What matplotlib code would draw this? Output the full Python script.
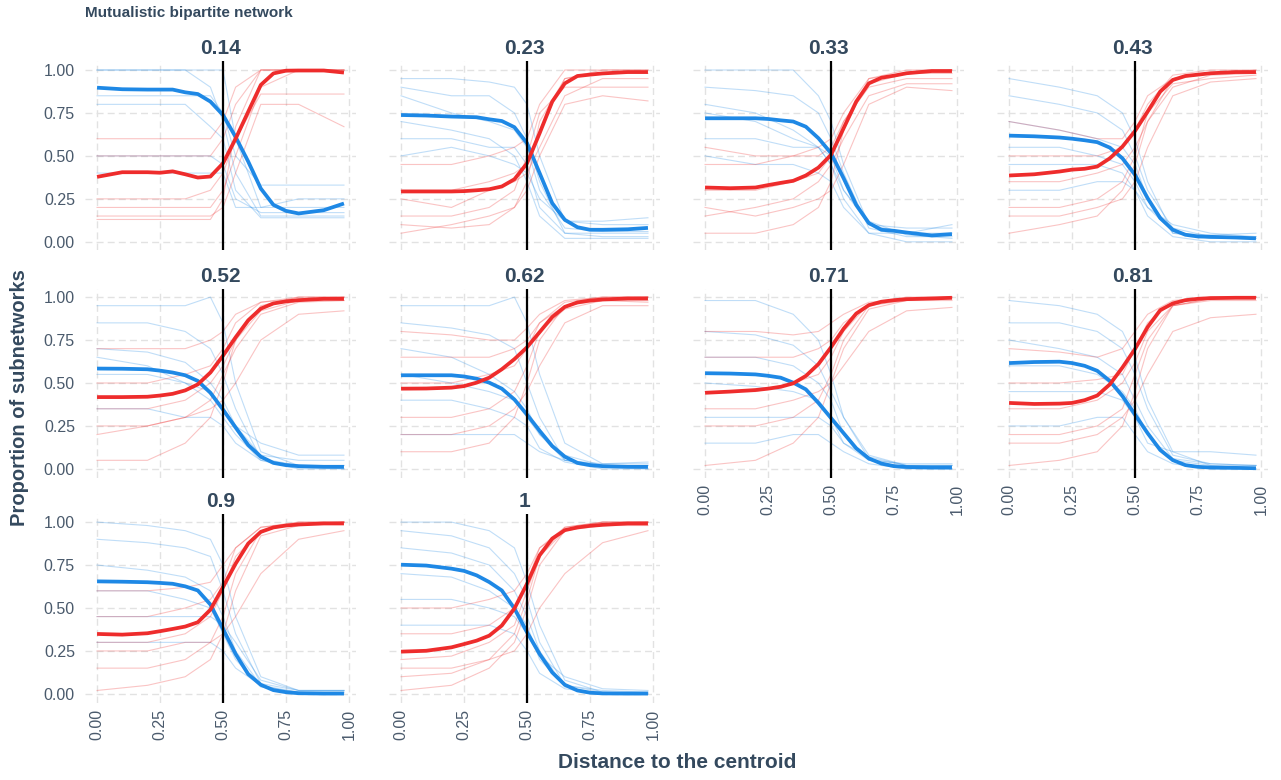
import numpy as np
import matplotlib.pyplot as plt

plt.rcParams['font.family'] = ['Liberation Sans', 'DejaVu Sans']

# facet titles (connectance level)
panel_titles = ["0.14", "0.23", "0.33", "0.43", "0.52", "0.62", "0.71", "0.81", "0.9", "1"]

# x positions of the smoothed (thick) curves
x_fit = [0, .1, .2, .25, .3, .35, .4, .45, .5, .55, .6, .65, .7, .75, .8, .9, .98]

# smoothed proportion, blue group, one row per panel
blue_fit = [
    [0.897, 0.888, 0.886, 0.886, 0.886, 0.87, 0.86, 0.816, 0.738, 0.61, 0.467, 0.31, 0.215, 0.18, 0.165, 0.184, 0.223],
    [0.738, 0.735, 0.729, 0.727, 0.725, 0.713, 0.703, 0.667, 0.574, 0.40, 0.225, 0.128, 0.085, 0.07, 0.07, 0.073, 0.081],
    [0.719, 0.719, 0.719, 0.715, 0.707, 0.70, 0.67, 0.603, 0.516, 0.37, 0.215, 0.109, 0.07, 0.064, 0.054, 0.037, 0.045],
    [0.618, 0.614, 0.607, 0.60, 0.591, 0.58, 0.548, 0.486, 0.39, 0.254, 0.138, 0.07, 0.041, 0.031, 0.029, 0.025, 0.02],
    [0.584, 0.583, 0.58, 0.572, 0.561, 0.545, 0.512, 0.443, 0.345, 0.241, 0.139, 0.071, 0.035, 0.022, 0.016, 0.012, 0.012],
    [0.545, 0.545, 0.545, 0.538, 0.525, 0.502, 0.467, 0.404, 0.316, 0.222, 0.133, 0.071, 0.035, 0.022, 0.016, 0.012, 0.012],
    [0.557, 0.555, 0.55, 0.542, 0.531, 0.502, 0.463, 0.384, 0.296, 0.208, 0.12, 0.061, 0.031, 0.016, 0.011, 0.008, 0.008],
    [0.616, 0.622, 0.624, 0.616, 0.60, 0.571, 0.512, 0.424, 0.316, 0.208, 0.11, 0.051, 0.022, 0.012, 0.008, 0.006, 0.004],
    [0.655, 0.653, 0.65, 0.646, 0.641, 0.626, 0.602, 0.52, 0.378, 0.232, 0.115, 0.053, 0.022, 0.01, 0.004, 0.002, 0.002],
    [0.752, 0.747, 0.729, 0.716, 0.69, 0.651, 0.602, 0.497, 0.359, 0.232, 0.125, 0.053, 0.02, 0.007, 0.003, 0.002, 0.002],
]

# smoothed proportion, red group
red_fit = [
    [0.378, 0.405, 0.405, 0.402, 0.41, 0.393, 0.374, 0.38, 0.457, 0.60, 0.757, 0.913, 0.98, 0.996, 0.997, 0.997, 0.985],
    [0.293, 0.293, 0.293, 0.295, 0.30, 0.306, 0.322, 0.364, 0.457, 0.632, 0.816, 0.922, 0.965, 0.973, 0.98, 0.988, 0.988],
    [0.316, 0.312, 0.316, 0.33, 0.343, 0.355, 0.386, 0.432, 0.506, 0.661, 0.816, 0.922, 0.955, 0.967, 0.981, 0.994, 0.994],
    [0.386, 0.393, 0.409, 0.42, 0.425, 0.438, 0.486, 0.554, 0.645, 0.758, 0.874, 0.942, 0.965, 0.973, 0.981, 0.988, 0.988],
    [0.418, 0.418, 0.42, 0.427, 0.437, 0.457, 0.492, 0.561, 0.659, 0.766, 0.865, 0.933, 0.963, 0.975, 0.982, 0.99, 0.99],
    [0.467, 0.468, 0.473, 0.482, 0.502, 0.531, 0.58, 0.639, 0.708, 0.796, 0.884, 0.943, 0.969, 0.98, 0.986, 0.992, 0.992],
    [0.443, 0.45, 0.459, 0.467, 0.478, 0.498, 0.541, 0.61, 0.708, 0.816, 0.904, 0.953, 0.973, 0.982, 0.988, 0.992, 0.996],
    [0.384, 0.378, 0.38, 0.384, 0.40, 0.427, 0.492, 0.59, 0.698, 0.825, 0.924, 0.963, 0.982, 0.99, 0.994, 0.996, 0.996],
    [0.349, 0.345, 0.353, 0.365, 0.378, 0.392, 0.417, 0.49, 0.622, 0.758, 0.875, 0.943, 0.969, 0.98, 0.986, 0.992, 0.992],
    [0.246, 0.251, 0.271, 0.29, 0.31, 0.339, 0.398, 0.497, 0.641, 0.807, 0.904, 0.953, 0.969, 0.978, 0.984, 0.992, 0.992],
]

# x positions of the individual (thin) network curves
x_run = [0, .2, .35, .45, .5, .55, .65, .8, .98]

# a sample of individual network curves per panel, blue group
blue_runs = [
    [[1.0, 1.0, 1.0, 1.0, 1.0, 0.6, 0.2, 0.2, 0.2],
     [1.0, 1.0, 1.0, 0.9, 0.7, 0.4, 0.15, 0.15, 0.15],
     [0.85, 0.85, 0.85, 0.85, 0.75, 0.5, 0.33, 0.33, 0.33],
     [0.8, 0.8, 0.8, 0.67, 0.6, 0.3, 0.14, 0.14, 0.14],
     [0.5, 0.5, 0.5, 0.5, 0.45, 0.25, 0.17, 0.17, 0.17],
     [0.4, 0.4, 0.4, 0.4, 0.4, 0.2, 0.2, 0.25, 0.25]],
    [[0.95, 0.95, 0.93, 0.9, 0.8, 0.5, 0.12, 0.1, 0.1],
     [0.9, 0.85, 0.85, 0.75, 0.6, 0.35, 0.05, 0.03, 0.03],
     [0.85, 0.75, 0.7, 0.65, 0.55, 0.3, 0.08, 0.06, 0.06],
     [0.6, 0.6, 0.55, 0.55, 0.45, 0.2, 0.05, 0.05, 0.05],
     [0.5, 0.55, 0.5, 0.45, 0.4, 0.25, 0.12, 0.12, 0.14],
     [0.7, 0.65, 0.6, 0.5, 0.35, 0.15, 0.02, 0.02, 0.02]],
    [[1.0, 1.0, 1.0, 0.85, 0.7, 0.45, 0.1, 0.05, 0.05],
     [0.9, 0.88, 0.85, 0.75, 0.6, 0.4, 0.08, 0.03, 0.03],
     [0.75, 0.7, 0.6, 0.55, 0.5, 0.3, 0.1, 0.08, 0.08],
     [0.6, 0.6, 0.55, 0.55, 0.45, 0.3, 0.12, 0.04, 0.02],
     [0.5, 0.45, 0.45, 0.4, 0.35, 0.2, 0.05, 0.0, 0.0],
     [0.8, 0.75, 0.65, 0.55, 0.45, 0.25, 0.05, 0.05, 0.1]],
    [[0.95, 0.9, 0.85, 0.75, 0.6, 0.35, 0.05, 0.02, 0.02],
     [0.85, 0.8, 0.75, 0.65, 0.5, 0.3, 0.08, 0.03, 0.03],
     [0.7, 0.65, 0.6, 0.55, 0.45, 0.25, 0.05, 0.04, 0.05],
     [0.55, 0.55, 0.5, 0.45, 0.35, 0.2, 0.06, 0.02, 0.02],
     [0.45, 0.45, 0.45, 0.4, 0.3, 0.15, 0.03, 0.0, 0.0],
     [0.3, 0.3, 0.35, 0.35, 0.3, 0.2, 0.1, 0.05, 0.03]],
    [[0.95, 0.95, 0.95, 1.0, 0.85, 0.5, 0.1, 0.02, 0.02],
     [0.85, 0.85, 0.8, 0.7, 0.55, 0.35, 0.06, 0.02, 0.02],
     [0.7, 0.68, 0.62, 0.5, 0.4, 0.25, 0.08, 0.05, 0.05],
     [0.55, 0.55, 0.5, 0.4, 0.3, 0.2, 0.05, 0.02, 0.0],
     [0.35, 0.35, 0.3, 0.3, 0.25, 0.15, 0.05, 0.0, 0.0],
     [0.65, 0.6, 0.5, 0.45, 0.35, 0.25, 0.15, 0.08, 0.08]],
    [[0.95, 0.95, 0.95, 1.0, 0.85, 0.55, 0.15, 0.03, 0.03],
     [0.85, 0.82, 0.78, 0.7, 0.5, 0.3, 0.05, 0.02, 0.02],
     [0.7, 0.65, 0.55, 0.45, 0.35, 0.2, 0.05, 0.03, 0.04],
     [0.55, 0.5, 0.45, 0.4, 0.3, 0.2, 0.08, 0.02, 0.0],
     [0.4, 0.4, 0.35, 0.3, 0.25, 0.12, 0.04, 0.0, 0.0],
     [0.2, 0.2, 0.2, 0.2, 0.15, 0.1, 0.05, 0.02, 0.02]],
    [[0.98, 0.98, 0.9, 0.75, 0.55, 0.3, 0.08, 0.02, 0.02],
     [0.8, 0.78, 0.72, 0.6, 0.45, 0.3, 0.06, 0.02, 0.02],
     [0.65, 0.65, 0.6, 0.5, 0.4, 0.2, 0.05, 0.03, 0.03],
     [0.5, 0.48, 0.45, 0.4, 0.3, 0.15, 0.05, 0.01, 0.0],
     [0.3, 0.3, 0.3, 0.3, 0.25, 0.15, 0.07, 0.02, 0.02],
     [0.15, 0.15, 0.2, 0.2, 0.15, 0.1, 0.03, 0.0, 0.0]],
    [[0.98, 0.95, 0.9, 0.8, 0.65, 0.4, 0.1, 0.02, 0.02],
     [0.85, 0.85, 0.8, 0.7, 0.55, 0.35, 0.08, 0.03, 0.02],
     [0.75, 0.7, 0.65, 0.55, 0.4, 0.25, 0.06, 0.03, 0.02],
     [0.6, 0.6, 0.55, 0.45, 0.35, 0.2, 0.05, 0.02, 0.0],
     [0.45, 0.45, 0.45, 0.4, 0.3, 0.15, 0.1, 0.1, 0.08],
     [0.25, 0.25, 0.3, 0.3, 0.2, 0.1, 0.03, 0.0, 0.0]],
    [[1.0, 0.98, 0.95, 0.9, 0.75, 0.45, 0.1, 0.02, 0.02],
     [0.9, 0.88, 0.85, 0.8, 0.6, 0.35, 0.06, 0.02, 0.02],
     [0.75, 0.72, 0.68, 0.6, 0.45, 0.25, 0.05, 0.01, 0.01],
     [0.6, 0.6, 0.55, 0.5, 0.35, 0.2, 0.04, 0.01, 0.01],
     [0.45, 0.45, 0.45, 0.45, 0.4, 0.3, 0.08, 0.02, 0.02],
     [0.3, 0.3, 0.3, 0.3, 0.25, 0.15, 0.05, 0.0, 0.0]],
    [[1.0, 1.0, 0.95, 0.85, 0.65, 0.4, 0.08, 0.01, 0.01],
     [0.95, 0.92, 0.85, 0.7, 0.55, 0.3, 0.05, 0.01, 0.0],
     [0.85, 0.82, 0.75, 0.6, 0.45, 0.25, 0.04, 0.0, 0.0],
     [0.7, 0.68, 0.6, 0.5, 0.4, 0.2, 0.05, 0.02, 0.01],
     [0.55, 0.55, 0.5, 0.45, 0.35, 0.22, 0.1, 0.03, 0.02],
     [0.4, 0.4, 0.4, 0.35, 0.25, 0.12, 0.03, 0.0, 0.0]],
]

# red group individual curves
red_runs = [
    [[0.6, 0.6, 0.6, 0.6, 0.7, 0.9, 1.0, 1.0, 1.0],
     [0.5, 0.5, 0.5, 0.5, 0.6, 0.8, 1.0, 1.0, 1.0],
     [0.25, 0.25, 0.25, 0.3, 0.4, 0.6, 0.86, 0.86, 0.86],
     [0.2, 0.2, 0.2, 0.2, 0.3, 0.5, 0.9, 1.0, 1.0],
     [0.15, 0.15, 0.15, 0.15, 0.2, 0.4, 0.8, 0.8, 0.67],
     [0.13, 0.13, 0.13, 0.13, 0.25, 0.67, 1.0, 1.0, 1.0]],
    [[0.05, 0.1, 0.15, 0.2, 0.35, 0.7, 0.95, 1.0, 1.0],
     [0.15, 0.15, 0.2, 0.3, 0.5, 0.75, 0.9, 0.9, 0.9],
     [0.3, 0.3, 0.35, 0.4, 0.45, 0.65, 0.95, 0.98, 0.98],
     [0.45, 0.45, 0.5, 0.55, 0.6, 0.8, 1.0, 1.0, 1.0],
     [0.25, 0.2, 0.3, 0.35, 0.4, 0.55, 0.85, 0.95, 0.95],
     [0.1, 0.08, 0.1, 0.2, 0.3, 0.5, 0.8, 0.85, 0.82]],
    [[0.05, 0.05, 0.1, 0.2, 0.35, 0.65, 0.95, 0.98, 1.0],
     [0.15, 0.2, 0.25, 0.35, 0.45, 0.6, 0.85, 0.92, 0.92],
     [0.3, 0.3, 0.35, 0.4, 0.5, 0.7, 0.9, 0.95, 0.95],
     [0.45, 0.45, 0.5, 0.55, 0.6, 0.75, 0.95, 1.0, 1.0],
     [0.55, 0.5, 0.5, 0.5, 0.55, 0.7, 0.92, 0.98, 0.98],
     [0.2, 0.15, 0.2, 0.25, 0.3, 0.45, 0.8, 0.9, 0.88]],
    [[0.05, 0.1, 0.15, 0.3, 0.45, 0.7, 0.95, 0.98, 1.0],
     [0.2, 0.2, 0.25, 0.35, 0.5, 0.75, 0.92, 0.95, 0.97],
     [0.35, 0.35, 0.4, 0.45, 0.55, 0.7, 0.9, 0.97, 0.98],
     [0.5, 0.5, 0.5, 0.55, 0.65, 0.8, 0.97, 1.0, 1.0],
     [0.7, 0.65, 0.6, 0.6, 0.7, 0.85, 0.95, 0.98, 0.98],
     [0.15, 0.15, 0.2, 0.25, 0.35, 0.55, 0.85, 0.93, 0.95]],
    [[0.05, 0.05, 0.15, 0.3, 0.5, 0.75, 0.95, 1.0, 1.0],
     [0.2, 0.25, 0.3, 0.4, 0.55, 0.7, 0.9, 0.97, 0.98],
     [0.35, 0.35, 0.4, 0.5, 0.6, 0.75, 0.92, 0.98, 0.98],
     [0.5, 0.5, 0.55, 0.6, 0.7, 0.85, 0.97, 1.0, 1.0],
     [0.7, 0.7, 0.7, 0.75, 0.8, 0.9, 0.97, 0.99, 1.0],
     [0.25, 0.25, 0.3, 0.35, 0.4, 0.5, 0.75, 0.9, 0.92]],
    [[0.1, 0.1, 0.15, 0.3, 0.5, 0.75, 0.95, 0.99, 1.0],
     [0.3, 0.3, 0.35, 0.45, 0.6, 0.8, 0.93, 0.98, 0.98],
     [0.5, 0.5, 0.55, 0.6, 0.7, 0.85, 0.97, 1.0, 1.0],
     [0.65, 0.65, 0.65, 0.7, 0.75, 0.85, 0.95, 0.98, 0.97],
     [0.8, 0.78, 0.75, 0.75, 0.82, 0.9, 0.98, 1.0, 1.0],
     [0.2, 0.2, 0.25, 0.35, 0.45, 0.6, 0.85, 0.95, 0.95]],
    [[0.02, 0.05, 0.15, 0.3, 0.5, 0.7, 0.93, 0.98, 1.0],
     [0.25, 0.25, 0.3, 0.4, 0.55, 0.75, 0.95, 0.99, 1.0],
     [0.45, 0.45, 0.5, 0.55, 0.65, 0.8, 0.96, 1.0, 1.0],
     [0.65, 0.65, 0.65, 0.7, 0.75, 0.85, 0.95, 0.98, 0.98],
     [0.8, 0.8, 0.78, 0.8, 0.85, 0.9, 0.97, 0.99, 0.99],
     [0.35, 0.35, 0.4, 0.45, 0.5, 0.6, 0.8, 0.92, 0.94]],
    [[0.02, 0.05, 0.1, 0.25, 0.45, 0.7, 0.95, 0.99, 1.0],
     [0.2, 0.2, 0.25, 0.35, 0.55, 0.75, 0.95, 0.98, 0.98],
     [0.35, 0.35, 0.4, 0.5, 0.62, 0.8, 0.95, 0.99, 1.0],
     [0.5, 0.5, 0.52, 0.55, 0.7, 0.85, 0.97, 1.0, 1.0],
     [0.7, 0.68, 0.65, 0.7, 0.8, 0.9, 0.98, 1.0, 1.0],
     [0.15, 0.15, 0.2, 0.3, 0.4, 0.55, 0.8, 0.88, 0.9]],
    [[0.02, 0.05, 0.1, 0.2, 0.35, 0.6, 0.92, 0.98, 1.0],
     [0.15, 0.15, 0.2, 0.3, 0.45, 0.7, 0.95, 0.99, 1.0],
     [0.3, 0.3, 0.35, 0.45, 0.6, 0.8, 0.95, 1.0, 1.0],
     [0.45, 0.45, 0.5, 0.55, 0.65, 0.85, 0.97, 1.0, 1.0],
     [0.6, 0.6, 0.62, 0.65, 0.75, 0.85, 0.97, 0.99, 1.0],
     [0.25, 0.25, 0.3, 0.3, 0.35, 0.45, 0.7, 0.9, 0.95]],
    [[0.02, 0.05, 0.15, 0.3, 0.5, 0.75, 0.95, 1.0, 1.0],
     [0.1, 0.12, 0.2, 0.35, 0.55, 0.8, 0.97, 1.0, 1.0],
     [0.2, 0.22, 0.3, 0.4, 0.6, 0.8, 0.95, 0.99, 1.0],
     [0.35, 0.35, 0.4, 0.5, 0.65, 0.85, 0.97, 1.0, 1.0],
     [0.5, 0.5, 0.55, 0.6, 0.7, 0.85, 0.95, 0.98, 0.98],
     [0.15, 0.15, 0.2, 0.25, 0.35, 0.5, 0.7, 0.88, 0.95]],
]

tick_vals = [0, 0.25, 0.5, 0.75, 1.0]
tick_labels = ["0.00", "0.25", "0.50", "0.75", "1.00"]

BLUE = "#1E88E5"
RED = "#EE2C2C"
TEXT = "#34495E"
TICK = "#4A5A6C"

W, H = 1281, 780
fig = plt.figure(figsize=(W / 100, H / 100), dpi=100)

col_left = [84.7, 388.7, 692.7, 996.7]
row_top = [61.4, 288.5, 513.5]
pw, ph = 271.6, 189.0

for i, title in enumerate(panel_titles):
    r, c = divmod(i, 4)
    ax = fig.add_axes([col_left[c] / W, 1 - (row_top[r] + ph) / H, pw / W, ph / H])

    for run in blue_runs[i]:
        ax.plot(x_run, run, color=BLUE, lw=0.8, alpha=0.28, zorder=2)
    for run in red_runs[i]:
        ax.plot(x_run, run, color=RED, lw=0.8, alpha=0.28, zorder=2)

    ax.plot(x_fit, blue_fit[i], color=BLUE, lw=2.7, solid_capstyle="butt",
            solid_joinstyle="round", zorder=3)
    ax.plot(x_fit, red_fit[i], color=RED, lw=2.7, solid_capstyle="butt",
            solid_joinstyle="round", zorder=3)
    ax.axvline(0.5, color="black", lw=1.6, zorder=4)

    ax.set_xlim(-0.049, 1.029)
    ax.set_ylim(-0.05, 1.05)
    ax.set_xticks(tick_vals)
    ax.set_yticks(tick_vals)
    ax.grid(True, color="#E2E2E2", linestyle=(0, (5, 3)), lw=1.0, zorder=0)
    ax.set_axisbelow(True)
    for s in ax.spines.values():
        s.set_visible(False)
    ax.tick_params(length=0, colors=TICK, labelsize=11.5)
    ax.tick_params(axis="y", pad=7)
    ax.tick_params(axis="x", pad=4.5)

    if c == 0:
        ax.set_yticklabels(tick_labels)
    else:
        ax.set_yticklabels([])
    # bottom panel of each column keeps the x labels
    if i + 4 >= len(panel_titles):
        ax.set_xticklabels(tick_labels, rotation=90)
    else:
        ax.set_xticklabels([])

    ax.set_title(title, fontsize=15, fontweight="bold", color=TEXT, pad=5)

fig.text(85 / W, 1 - 13 / H, "Mutualistic bipartite network", fontsize=11,
         fontweight="bold", color=TEXT, ha="left", va="center")
fig.text(20 / W, 1 - 398 / H, "Proportion of subnetworks", fontsize=14.5,
         fontweight="bold", color=TEXT, rotation=90, ha="center", va="center")
fig.text(677 / W, 1 - 762 / H, "Distance to the centroid", fontsize=15,
         fontweight="bold", color=TEXT, ha="center", va="center")

fig.savefig("out.png", dpi=100, facecolor="white")
